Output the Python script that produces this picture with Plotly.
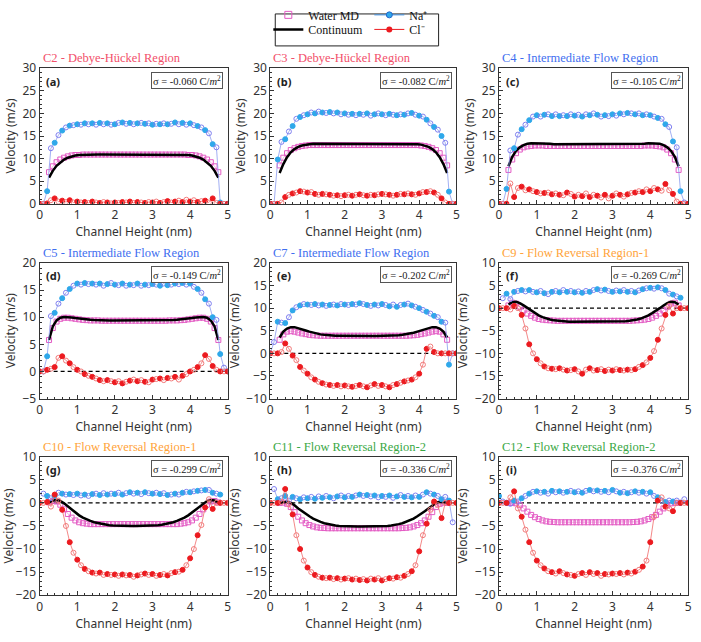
import plotly.graph_objects as go

# ---------------- data ----------------
X_ION = [0.0, 0.1, 0.2, 0.3, 0.4, 0.5, 0.6, 0.7, 0.8, 0.9,
         1.0, 1.1, 1.2, 1.3, 1.4, 1.5, 1.6, 1.7, 1.8, 1.9,
         2.0, 2.1, 2.2, 2.3, 2.4, 2.5, 2.6, 2.7, 2.8, 2.9,
         3.0, 3.1, 3.2, 3.3, 3.4, 3.5, 3.6, 3.7, 3.8, 3.9,
         4.0, 4.1, 4.2, 4.3, 4.4, 4.5, 4.6, 4.7, 4.8, 4.9,
         5.0]
X_WATER = [0.25, 0.35, 0.45, 0.55, 0.65, 0.75, 0.85, 0.95, 1.05, 1.15,
           1.25, 1.35, 1.45, 1.55, 1.65, 1.75, 1.85, 1.95, 2.05, 2.15,
           2.25, 2.35, 2.45, 2.55, 2.65, 2.75, 2.85, 2.95, 3.05, 3.15,
           3.25, 3.35, 3.45, 3.55, 3.65, 3.75, 3.85, 3.95, 4.05, 4.15,
           4.25, 4.35, 4.45, 4.55, 4.65, 4.75]

PANEL_LABELS = ["(a)", "(b)", "(c)", "(d)", "(e)", "(f)", "(g)", "(h)", "(i)"]
TITLES = ["C2 - Debye-Hückel Region", "C3 - Debye-Hückel Region", "C4 - Intermediate Flow Region",
          "C5 - Intermediate Flow Region", "C7 - Intermediate Flow Region", "C9 - Flow Reversal Region-1",
          "C10 - Flow Reversal Region-1", "C11 - Flow Reversal Region-2", "C12 - Flow Reversal Region-2"]
SIGMAS = ["-0.060", "-0.082", "-0.105", "-0.149", "-0.202", "-0.269", "-0.299", "-0.336", "-0.376"]
Y_RANGES = [[0, 30], [0, 30], [0, 30], [-5, 20], [-10, 20], [-20, 10], [-20, 10], [-20, 10], [-20, 10]]
X_TICKS = [0, 1, 2, 3, 4, 5]

# Water MD
WATER_A = [7.0, 8.3, 9.2, 9.8, 10.2, 10.5, 10.7, 10.8, 10.8, 10.9,
           10.9, 10.9, 10.9, 10.9, 10.9, 10.9, 10.9, 10.9, 10.9, 10.9,
           10.9, 10.9, 10.9, 10.9, 10.9, 10.9, 10.9, 10.9, 10.9, 10.9,
           10.9, 10.9, 10.9, 10.9, 10.9, 10.9, 10.9, 10.8, 10.8, 10.7,
           10.5, 10.2, 9.8, 9.2, 8.3, 7.0]
WATER_B = [8.5, 10.2, 11.2, 11.9, 12.3, 12.6, 12.8, 12.9, 13.0, 13.0,
           13.0, 13.0, 13.0, 13.0, 13.0, 13.0, 13.0, 13.0, 13.0, 13.0,
           13.0, 13.0, 13.0, 13.0, 13.0, 13.0, 13.0, 13.0, 13.0, 13.0,
           13.0, 13.0, 13.0, 13.0, 13.0, 13.0, 13.0, 13.0, 12.9, 12.8,
           12.6, 12.3, 11.9, 11.2, 10.2, 8.5]
WATER_C = [7.5, 9.8, 11.2, 12.0, 12.5, 12.7, 12.8, 12.9, 12.9, 12.9,
           12.8, 12.8, 12.8, 12.8, 12.8, 12.8, 12.8, 12.8, 12.8, 12.8,
           12.8, 12.8, 12.8, 12.8, 12.8, 12.8, 12.8, 12.8, 12.8, 12.8,
           12.8, 12.8, 12.8, 12.8, 12.8, 12.8, 12.9, 12.9, 12.9, 12.8,
           12.7, 12.5, 12.0, 11.2, 9.8, 7.5]
WATER_D = [5.8, 8.0, 9.2, 9.7, 9.9, 9.9, 9.8, 9.7, 9.6, 9.5,
           9.45, 9.4, 9.4, 9.4, 9.35, 9.35, 9.35, 9.35, 9.35, 9.35,
           9.35, 9.35, 9.35, 9.35, 9.35, 9.35, 9.35, 9.35, 9.35, 9.35,
           9.35, 9.35, 9.4, 9.4, 9.4, 9.45, 9.5, 9.6, 9.7, 9.8,
           9.9, 9.9, 9.7, 9.2, 8.0, 5.8]
WATER_E = [3.0, 4.2, 4.8, 4.9, 4.8, 4.6, 4.4, 4.25, 4.1, 4.0,
           3.95, 3.9, 3.9, 3.9, 3.9, 3.9, 3.9, 3.9, 3.9, 3.9,
           3.9, 3.9, 3.9, 3.9, 3.9, 3.9, 3.9, 3.9, 3.9, 3.9,
           3.9, 3.9, 3.9, 3.9, 3.9, 3.95, 4.0, 4.1, 4.25, 4.4,
           4.6, 4.8, 4.9, 4.8, 4.2, 3.0]
WATER_F = [0.6, 1.2, 1.0, 0.3, -0.5, -1.2, -1.7, -2.1, -2.4, -2.55,
           -2.65, -2.7, -2.75, -2.8, -2.8, -2.8, -2.8, -2.8, -2.8, -2.8,
           -2.8, -2.8, -2.8, -2.8, -2.8, -2.8, -2.8, -2.8, -2.8, -2.8,
           -2.8, -2.8, -2.8, -2.75, -2.7, -2.65, -2.55, -2.4, -2.1, -1.7,
           -1.2, -0.5, 0.3, 1.0, 1.2, 0.6]
WATER_G = [0.1, 0.4, 0.3, -0.4, -1.4, -2.4, -3.2, -3.8, -4.2, -4.4,
           -4.5, -4.6, -4.6, -4.6, -4.6, -4.6, -4.6, -4.6, -4.6, -4.6,
           -4.6, -4.6, -4.6, -4.6, -4.6, -4.6, -4.6, -4.6, -4.6, -4.6,
           -4.6, -4.6, -4.6, -4.6, -4.6, -4.5, -4.4, -4.2, -3.8, -3.2,
           -2.4, -1.4, -0.4, 0.3, 0.4, 0.1]
WATER_H = [0.0, 0.05, -0.2, -0.9, -2.0, -3.0, -3.8, -4.4, -4.8, -5.1,
           -5.3, -5.4, -5.45, -5.5, -5.5, -5.5, -5.5, -5.5, -5.5, -5.5,
           -5.5, -5.5, -5.5, -5.5, -5.5, -5.5, -5.5, -5.5, -5.5, -5.5,
           -5.5, -5.5, -5.5, -5.45, -5.4, -5.3, -5.1, -4.8, -4.4, -3.8,
           -3.0, -2.0, -0.9, -0.2, 0.05, 0.0]
WATER_I = [0.0, 0.0, -0.1, -0.5, -1.2, -1.9, -2.6, -3.1, -3.5, -3.8,
           -4.0, -4.1, -4.15, -4.2, -4.2, -4.2, -4.2, -4.2, -4.2, -4.2,
           -4.2, -4.2, -4.2, -4.2, -4.2, -4.2, -4.2, -4.2, -4.2, -4.2,
           -4.2, -4.2, -4.2, -4.15, -4.1, -4.0, -3.8, -3.5, -3.1, -2.6,
           -1.9, -1.2, -0.5, -0.1, 0.0, 0.0]

# Continuum
CONT_A = [5.8, 7.3, 8.4, 9.2, 9.8, 10.2, 10.5, 10.7, 10.8, 10.85,
          10.9, 10.9, 10.9, 10.9, 10.9, 10.9, 10.9, 10.9, 10.9, 10.9,
          10.9, 10.9, 10.9, 10.9, 10.9, 10.9, 10.9, 10.9, 10.9, 10.9,
          10.9, 10.9, 10.9, 10.9, 10.9, 10.9, 10.85, 10.8, 10.7, 10.5,
          10.2, 9.8, 9.2, 8.4, 7.3, 5.8]
CONT_B = [6.8, 8.8, 10.3, 11.4, 12.1, 12.6, 12.9, 13.1, 13.2, 13.3,
          13.3, 13.3, 13.3, 13.3, 13.3, 13.3, 13.3, 13.3, 13.3, 13.3,
          13.3, 13.3, 13.3, 13.3, 13.3, 13.3, 13.3, 13.3, 13.3, 13.3,
          13.3, 13.3, 13.3, 13.3, 13.3, 13.3, 13.3, 13.2, 13.1, 12.9,
          12.6, 12.1, 11.4, 10.3, 8.8, 6.8]
CONT_C = [8.3, 10.4, 11.7, 12.5, 13.0, 13.3, 13.4, 13.4, 13.4, 13.3,
          13.3, 13.3, 13.2, 13.2, 13.2, 13.2, 13.2, 13.2, 13.2, 13.2,
          13.2, 13.2, 13.2, 13.2, 13.2, 13.2, 13.2, 13.2, 13.2, 13.2,
          13.2, 13.2, 13.2, 13.2, 13.3, 13.3, 13.3, 13.4, 13.4, 13.4,
          13.3, 13.0, 12.5, 11.7, 10.4, 8.3]
CONT_D = [5.8, 8.3, 9.4, 9.9, 10.05, 10.05, 9.95, 9.85, 9.75, 9.65,
          9.6, 9.55, 9.5, 9.45, 9.45, 9.4, 9.4, 9.4, 9.4, 9.4,
          9.4, 9.4, 9.4, 9.4, 9.4, 9.4, 9.4, 9.4, 9.4, 9.4,
          9.4, 9.45, 9.45, 9.5, 9.55, 9.6, 9.65, 9.75, 9.85, 9.95,
          10.05, 10.05, 9.9, 9.4, 8.3, 5.8]
CONT_E = [3.5, 4.8, 5.5, 5.8, 5.8, 5.6, 5.35, 5.05, 4.8, 4.55,
          4.35, 4.2, 4.1, 4.0, 3.95, 3.9, 3.88, 3.86, 3.85, 3.85,
          3.85, 3.85, 3.85, 3.85, 3.85, 3.85, 3.85, 3.85, 3.86, 3.88,
          3.9, 3.95, 4.0, 4.1, 4.2, 4.35, 4.55, 4.8, 5.05, 5.35,
          5.6, 5.8, 5.8, 5.5, 4.8, 3.5]
CONT_F = [0.8, 1.3, 1.4, 1.1, 0.6, 0.0, -0.6, -1.1, -1.6, -2.0,
          -2.3, -2.5, -2.7, -2.8, -2.9, -2.95, -3.0, -3.0, -3.0, -3.0,
          -3.0, -3.0, -3.0, -3.0, -3.0, -3.0, -3.0, -3.0, -3.0, -3.0,
          -2.95, -2.9, -2.8, -2.7, -2.5, -2.3, -2.0, -1.6, -1.1, -0.6,
          0.0, 0.6, 1.1, 1.4, 1.3, 0.8]
CONT_G = [0.1, 0.5, 0.6, 0.4, -0.1, -0.8, -1.5, -2.1, -2.7, -3.2,
          -3.6, -3.9, -4.2, -4.4, -4.6, -4.75, -4.85, -4.9, -4.95, -5.0,
          -5.0, -5.0, -5.0, -5.0, -5.0, -5.0, -5.0, -4.95, -4.9, -4.85,
          -4.75, -4.6, -4.4, -4.2, -3.9, -3.6, -3.2, -2.7, -2.1, -1.5,
          -0.8, -0.1, 0.4, 0.6, 0.5, 0.1]
CONT_H = [0.0, 0.2, 0.25, 0.0, -0.5, -1.2, -1.8, -2.4, -2.9, -3.4,
          -3.8, -4.1, -4.4, -4.6, -4.8, -4.9, -5.0, -5.05, -5.1, -5.1,
          -5.1, -5.1, -5.1, -5.1, -5.1, -5.1, -5.1, -5.1, -5.05, -5.0,
          -4.9, -4.8, -4.6, -4.4, -4.1, -3.8, -3.4, -2.9, -2.4, -1.8,
          -1.2, -0.5, 0.0, 0.25, 0.2, 0.0]
CONT_I = None  # no continuum curve shown in panel (i)

# Na+
NA_A = [0.0, 0.0, 2.8, 12.3, 13.5, 15.2, 16.2, 16.9, 17.3, 17.4,
        17.6, 17.5, 17.8, 17.6, 17.8, 17.5, 17.9, 17.6, 17.8, 17.5,
        17.6, 17.9, 18.0, 17.7, 17.9, 17.6, 17.8, 17.9, 17.7, 17.8,
        17.5, 17.7, 17.6, 17.8, 17.6, 17.7, 18.0, 17.6, 17.9, 17.5,
        17.8, 17.4, 17.2, 16.9, 16.3, 15.6, 13.2, 12.5, 0.3, 0.0,
        0.0]
NA_B = [0.0, 0.0, 9.8, 13.7, 14.3, 16.0, 17.2, 18.8, 19.2, 19.6,
        19.8, 20.2, 20.0, 20.4, 20.2, 20.1, 20.3, 20.0, 20.2, 19.8,
        20.0, 19.7, 19.9, 19.6, 19.9, 19.7, 20.0, 19.5, 19.8, 20.0,
        19.8, 19.6, 19.9, 19.7, 19.6, 19.8, 19.7, 20.0, 20.1, 19.7,
        19.5, 19.3, 18.6, 17.8, 17.0, 16.4, 15.0, 13.5, 2.7, 0.0,
        0.0]
NA_C = [0.0, 0.0, 3.3, 11.8, 12.3, 15.3, 16.5, 17.5, 18.5, 19.3,
        19.6, 19.3, 19.7, 19.8, 19.4, 19.8, 19.4, 19.6, 19.4, 19.8,
        19.5, 19.7, 19.3, 19.8, 19.6, 20.0, 19.7, 19.3, 19.6, 19.4,
        19.8, 19.5, 20.0, 19.8, 20.1, 20.0, 19.8, 20.0, 19.6, 19.8,
        19.6, 19.3, 19.0, 18.8, 17.6, 17.0, 13.8, 12.5, 2.8, 0.3,
        0.0]
NA_D = [0.0, 0.0, 2.8, 10.2, 10.8, 12.5, 13.5, 14.5, 15.2, 15.8,
        16.2, 16.0, 16.3, 16.1, 16.2, 16.0, 16.2, 15.8, 16.1, 16.3,
        16.0, 15.9, 16.2, 15.8, 16.0, 15.9, 16.2, 15.8, 16.0, 15.9,
        16.1, 16.0, 15.8, 16.2, 15.9, 16.0, 16.2, 16.1, 16.3, 16.0,
        16.2, 15.6, 15.2, 14.5, 13.3, 12.5, 10.0, 9.5, 3.2, 0.7,
        0.0]
NA_E = [0.0, 2.5, 7.0, 6.8, 6.7, 8.0, 9.5, 10.2, 10.6, 10.9,
        10.8, 10.7, 10.9, 10.6, 10.8, 10.5, 10.7, 10.8, 10.6, 10.9,
        10.8, 10.7, 10.9, 10.8, 11.1, 10.9, 10.7, 10.5, 10.8, 10.6,
        10.9, 10.7, 10.4, 10.8, 10.3, 10.7, 10.8, 11.0, 10.6, 10.3,
        10.0, 9.6, 9.2, 8.8, 8.3, 8.0, 7.0, 6.8, -2.5, 0.0,
        0.0]
NA_F = [None, 2.2, 3.2, 2.0, 3.6, 3.8, 4.0, 3.7, 4.0, 3.6,
        3.5, 3.8, 3.3, 3.1, 3.6, 3.8, 3.5, 4.0, 3.6, 3.8,
        3.5, 3.7, 3.4, 3.8, 3.6, 4.0, 4.2, 3.9, 4.1, 3.8,
        3.6, 3.9, 3.7, 4.0, 3.6, 3.8, 3.5, 3.9, 4.2, 4.4,
        4.5, 4.3, 4.6, 4.4, 4.0, 3.2, 3.0, 2.6, 2.3, None,
        None]
NA_G = [None, 2.0, 1.5, 1.0, 1.5, 2.2, 2.0, 1.8, 1.9, 1.7,
        2.0, 1.6, 1.8, 1.5, 1.9, 2.0, 1.7, 2.1, 1.8, 2.0,
        1.9, 2.2, 1.8, 2.1, 2.3, 2.0, 2.2, 1.9, 2.3, 2.1,
        2.0, 2.2, 1.9, 2.1, 1.7, 1.8, 2.0, 1.8, 2.2, 2.4,
        2.3, 2.5, 2.6, 2.7, 2.8, 2.8, 2.2, 2.0, 1.8, None,
        None]
NA_H = [None, 3.0, 0.8, 1.0, 1.5, 0.5, 1.3, 1.0, 0.8, 1.2,
        1.0, 1.3, 0.9, 1.4, 1.1, 1.5, 1.2, 1.0, 1.4, 1.6,
        1.2, 1.5, 1.3, 1.6, 1.8, 1.5, 1.7, 1.4, 1.6, 1.2,
        1.5, 1.3, 1.6, 1.1, 1.4, 1.7, 1.3, 1.5, 1.2, 1.6,
        1.3, 1.8, 2.3, 2.0, 1.8, 1.5, 0.8, 1.3, 0.5, -4.2,
        None]
NA_I = [1.5, 0.3, 0.0, -0.2, 0.5, 0.3, 1.0, 1.5, 2.0, 2.4,
        2.5, 2.2, 2.4, 2.0, 2.6, 2.3, 2.5, 2.2, 2.4, 2.6,
        2.3, 2.5, 2.2, 2.6, 2.8, 2.5, 2.7, 2.4, 2.6, 2.3,
        2.8, 2.5, 2.2, 2.4, 2.1, 2.3, 2.5, 2.2, 2.4, 2.0,
        2.3, 1.5, 1.2, 0.5, 0.2, 0.5, 0.3, 0.5, 0.0, 0.8,
        None]

# Cl-
CL_A = [0.0, 0.0, 0.1, 0.8, 1.2, 0.5, 0.7, 0.4, 0.8, 0.3,
        0.5, 0.3, 0.4, 0.2, 0.5, 0.3, 0.2, 0.4, 0.3, 0.1,
        0.3, 0.2, 0.4, 0.3, 0.5, 0.2, 0.4, 0.3, 0.2, 0.4,
        0.3, 0.5, 0.2, 0.4, 0.6, 0.3, 0.5, 0.7, 0.4, 0.9,
        0.5, 0.8, 0.4, 0.6, 0.7, 0.3, 1.2, 0.2, 0.0, 0.0,
        0.0]
CL_B = [0.0, 0.0, 0.0, 0.3, 1.5, 2.0, 2.3, 2.5, 2.8, 2.7,
        2.5, 2.6, 2.2, 2.0, 2.2, 2.1, 2.0, 1.8, 1.9, 1.7,
        1.9, 2.0, 1.8, 2.0, 2.1, 1.9, 1.8, 2.0, 1.9, 2.1,
        2.2, 2.1, 2.0, 1.8, 2.0, 2.2, 2.1, 2.3, 2.1, 2.0,
        2.3, 2.6, 2.6, 2.8, 2.5, 2.0, 1.2, 0.3, 0.0, 0.0,
        0.0]
CL_C = [0.0, 0.0, 0.0, 4.5, 1.5, 3.5, 3.8, 3.0, 3.2, 2.8,
        2.6, 2.3, 2.4, 2.5, 2.1, 2.3, 2.0, 1.9, 2.5, 2.2,
        1.6, 2.0, 1.7, 2.3, 1.5, 2.0, 1.8, 1.4, 2.0, 1.2,
        1.8, 2.3, 2.0, 1.6, 2.1, 2.4, 2.5, 2.8, 2.6, 3.2,
        2.8, 3.5, 3.2, 2.9, 4.4, 3.0, 2.2, 0.5, 0.0, 0.0,
        0.0]
CL_D = [0.0, 0.0, 0.3, 0.5, 0.8, 2.5, 2.8, 2.0, 1.5, 0.8,
        0.3, 0.0, -0.5, -0.8, -1.0, -1.3, -1.6, -1.8, -1.6, -1.8,
        -2.0, -1.8, -2.2, -1.9, -1.7, -1.5, -1.8, -1.6, -1.9, -2.0,
        -1.5, -1.4, -1.3, -1.6, -1.2, -1.3, -1.0, -1.5, -0.8, -0.5,
        0.0, 0.3, 0.8, 1.5, 3.0, 2.3, 1.0, 0.3, 0.0, 0.0,
        0.0]
CL_E = [0.0, 0.0, 0.0, 0.3, 2.2, 1.0, -0.5, -1.5, -3.0, -3.8,
        -4.5, -5.3, -5.8, -6.3, -6.6, -6.9, -7.0, -7.2, -7.0, -7.3,
        -7.1, -7.3, -7.4, -7.2, -7.0, -7.3, -7.5, -7.1, -6.8, -7.2,
        -7.0, -7.3, -7.5, -7.0, -6.8, -6.5, -6.2, -6.0, -5.8, -5.3,
        -4.5, -2.5, 1.0, 1.5, 0.3, 0.0, 0.0, 0.0, 0.0, 0.0,
        0.0]
CL_F = [0.0, 0.0, 0.0, -0.3, 0.5, 0.0, -1.5, -4.5, -8.0, -10.0,
        -11.3, -12.2, -12.9, -13.3, -13.4, -13.5, -13.3, -13.6, -13.8, -13.7,
        -13.5, -14.0, -14.5, -13.6, -13.3, -13.8, -13.7, -13.5, -13.9, -13.6,
        -13.8, -13.5, -13.7, -13.8, -13.6, -13.7, -13.5, -13.0, -12.6, -12.0,
        -11.0, -9.5, -7.0, -4.5, -1.5, 0.5, -1.2, 0.0, 0.0, 0.0,
        0.0]
CL_G = [0.0, 0.0, 0.2, -0.8, 1.8, 0.5, -1.5, -5.0, -8.5, -10.8,
        -12.3, -13.5, -14.3, -14.8, -15.1, -15.3, -15.1, -15.6, -15.4, -15.6,
        -15.5, -15.8, -15.5, -15.7, -15.6, -16.0, -15.7, -15.5, -15.3, -15.6,
        -15.4, -15.8, -15.6, -15.4, -15.7, -15.2, -15.0, -14.9, -14.5, -13.5,
        -12.0, -10.0, -7.0, -4.8, -1.0, 0.8, -1.3, 0.0, 0.0, 0.0,
        0.0]
CL_H = [0.0, 0.0, 0.0, 0.2, 3.0, -0.3, -2.5, -7.0, -10.0, -12.5,
        -14.0, -15.0, -15.6, -16.0, -16.2, -16.3, -16.2, -16.5, -16.3, -16.6,
        -16.4, -16.3, -16.6, -16.4, -16.7, -16.5, -16.8, -16.4, -16.6, -16.3,
        -16.8, -16.5, -16.3, -16.4, -16.1, -16.2, -15.8, -15.4, -14.8, -13.5,
        -10.5, -7.0, -4.5, -1.5, 0.3, -0.5, -3.3, 0.0, 0.0, 0.0,
        0.0]
CL_I = [0.0, 0.0, 0.0, 1.2, 2.5, -1.2, -3.0, -5.8, -8.5, -10.8,
        -12.5, -13.5, -14.2, -14.8, -15.0, -15.3, -14.8, -15.2, -15.5, -15.6,
        -15.8, -15.4, -15.2, -15.6, -15.0, -15.4, -15.2, -15.8, -15.4, -15.5,
        -15.3, -15.4, -15.2, -15.5, -15.1, -15.3, -14.9, -14.5, -13.8, -12.5,
        -8.5, -3.0, 0.5, 1.2, -0.8, -1.2, -1.8, 0.0, 0.0, 0.0,
        0.0]

WATER = [WATER_A, WATER_B, WATER_C, WATER_D, WATER_E, WATER_F, WATER_G, WATER_H, WATER_I]
CONT = [CONT_A, CONT_B, CONT_C, CONT_D, CONT_E, CONT_F, CONT_G, CONT_H, CONT_I]
NA = [NA_A, NA_B, NA_C, NA_D, NA_E, NA_F, NA_G, NA_H, NA_I]
CL = [CL_A, CL_B, CL_C, CL_D, CL_E, CL_F, CL_G, CL_H, CL_I]

# ---------------- styling ----------------
W, H = 701, 642
COLS = [(37, 227), (270, 458), (501, 692)]
ROWS = [(58, 198), (259, 399), (459, 602)]
TITLE_COLORS = ["#f2506a", "#f2506a", "#3f6ff0", "#3f6ff0", "#3f6ff0",
                "#ffa43a", "#ffa43a", "#3aa845", "#3aa845"]
SERIF = "Liberation Serif"
SANS = "Noto Sans"

NA_FILL, NA_OPEN, NA_LINE = "#2ea8ea", "#7f7ff0", "#8a9af0"
CL_FILL, CL_OPEN, CL_LINE = "#ec1a1f", "#f27b7b", "#f06a6a"
WATER_COL, WATER_LINE = "#e35bc4", "#f29ddc"

n_ion = len(X_ION)
ion_symbols = ["circle" if k % 2 == 0 else "circle-open" for k in range(n_ion)]
na_colors = [NA_FILL if k % 2 == 0 else NA_OPEN for k in range(n_ion)]
cl_colors = [CL_FILL if k % 2 == 0 else CL_OPEN for k in range(n_ion)]

fig = go.Figure()
layout = dict(width=W, height=H, margin=dict(l=0, r=0, t=0, b=0),
              paper_bgcolor="white", plot_bgcolor="white", showlegend=True)
annotations = []
shapes = []

for i in range(9):
    r, c = divmod(i, 3)
    sfx = "" if i == 0 else str(i + 1)
    xa, ya = "x" + sfx, "y" + sfx
    x0, x1 = COLS[c]
    y0, y1 = ROWS[r]
    layout["xaxis" + sfx] = dict(
        domain=[x0 / W, x1 / W], anchor=ya, range=[0, 5], tickvals=X_TICKS,
        ticks="inside", ticklen=4, tickcolor="#333", showline=True, mirror=True,
        linecolor="#333", linewidth=1, showgrid=False, zeroline=False,
        minor=dict(ticks="inside", dtick=0.2, ticklen=2, tickcolor="#333"),
        tickfont=dict(family=SANS, size=12, color="#333"),
        title=dict(text="Channel Height (nm)", font=dict(family=SANS, size=12, color="#333"), standoff=2))
    layout["yaxis" + sfx] = dict(
        domain=[1 - y1 / H, 1 - y0 / H], anchor=xa, range=Y_RANGES[i], dtick=5,
        ticks="inside", ticklen=4, tickcolor="#333", showline=True, mirror=True,
        linecolor="#333", linewidth=1, showgrid=False, zeroline=False,
        minor=dict(ticks="inside", dtick=1, ticklen=2, tickcolor="#333"),
        tickfont=dict(family=SANS, size=12, color="#333"),
        title=dict(text="Velocity (m/s)", font=dict(family=SANS, size=12, color="#333"), standoff=4))

    if Y_RANGES[i][0] < 0:
        shapes.append(dict(type="line", xref=xa + " domain", yref=ya, x0=0, x1=1, y0=0, y1=0,
                           line=dict(color="black", width=1.2, dash="4px,3px"), layer="below"))

    fig.add_trace(go.Scatter(x=X_WATER, y=WATER[i], mode="lines+markers", xaxis=xa, yaxis=ya,
                             line=dict(color=WATER_LINE, width=0.8),
                             marker=dict(symbol="square-open", size=5, color=WATER_COL, line=dict(width=1)),
                             showlegend=False, hoverinfo="skip"))
    if CONT[i] is not None:
        fig.add_trace(go.Scatter(x=X_WATER, y=CONT[i], mode="lines", xaxis=xa, yaxis=ya,
                                 line=dict(color="black", width=2.5), showlegend=False, hoverinfo="skip"))
    fig.add_trace(go.Scatter(x=X_ION, y=NA[i], mode="lines+markers", xaxis=xa, yaxis=ya,
                             line=dict(color=NA_LINE, width=0.8),
                             marker=dict(symbol=ion_symbols, size=5, color=na_colors,
                                         line=dict(width=1, color=na_colors)),
                             showlegend=False, hoverinfo="skip"))
    fig.add_trace(go.Scatter(x=X_ION, y=CL[i], mode="lines+markers", xaxis=xa, yaxis=ya,
                             line=dict(color=CL_LINE, width=0.8),
                             marker=dict(symbol=ion_symbols, size=5, color=cl_colors,
                                         line=dict(width=1, color=cl_colors)),
                             showlegend=False, hoverinfo="skip"))

    annotations.append(dict(text=TITLES[i], xref=xa + " domain", yref=ya + " domain", x=0, y=1,
                            xanchor="left", yanchor="bottom", xshift=1, yshift=1, showarrow=False,
                            font=dict(family=SERIF, size=12.5, color=TITLE_COLORS[i])))
    annotations.append(dict(text="<b>" + PANEL_LABELS[i] + "</b>", xref=xa + " domain", yref=ya + " domain",
                            x=0.025, y=0.975, xanchor="left", yanchor="top", showarrow=False,
                            font=dict(family=SANS, size=11, color="#222")))
    annotations.append(dict(text="σ = " + SIGMAS[i] + " C/<i>m</i><sup>2</sup>", xref=xa + " domain",
                            yref=ya + " domain", x=0.975, y=0.975, xanchor="right", yanchor="top",
                            showarrow=False, bordercolor="#555", borderwidth=1, borderpad=1, bgcolor="white",
                            font=dict(family=SERIF, size=10.5, color="#222")))

# legend entries: row 1 (legend) = Water MD, Na+ ; row 2 (legend2) = Continuum, Cl-
fig.add_trace(go.Scatter(x=[None], y=[None], mode="markers", name="Water MD", legend="legend",
                         marker=dict(symbol="square-open", size=7, color=WATER_COL, line=dict(width=1))))
fig.add_trace(go.Scatter(x=[None], y=[None], mode="lines+markers", name="Na⁺", legend="legend",
                         line=dict(color="#3d8fe0", width=1),
                         marker=dict(symbol="circle", size=6, color=NA_FILL, line=dict(width=1, color="#2266cc"))))
fig.add_trace(go.Scatter(x=[None], y=[None], mode="lines", name="Continuum", legend="legend2",
                         line=dict(color="black", width=2.5)))
fig.add_trace(go.Scatter(x=[None], y=[None], mode="lines+markers", name="Cl⁻", legend="legend2",
                         line=dict(color=CL_FILL, width=1),
                         marker=dict(symbol="circle", size=6, color=CL_FILL)))

leg_common = dict(orientation="h", yanchor="top", xanchor="left", bgcolor="rgba(0,0,0,0)", borderwidth=0,
                  font=dict(family=SERIF, size=12, color="#111"), tracegroupgap=0, itemwidth=30,
                  entrywidth=56, entrywidthmode="pixels")
layout["legend"] = dict(x=268 / W, y=1 + 12 / H, **leg_common)
layout["legend2"] = dict(x=268 / W, y=1 - 3 / H, **leg_common)
shapes.append(dict(type="rect", xref="paper", yref="paper", x0=275 / W, x1=440 / W,
                   y0=1 - 35 / H, y1=1 - 2 / H, line=dict(color="#222", width=1)))

layout["annotations"] = annotations
layout["shapes"] = shapes
fig.update_layout(**layout)
fig.write_html("out.html")
